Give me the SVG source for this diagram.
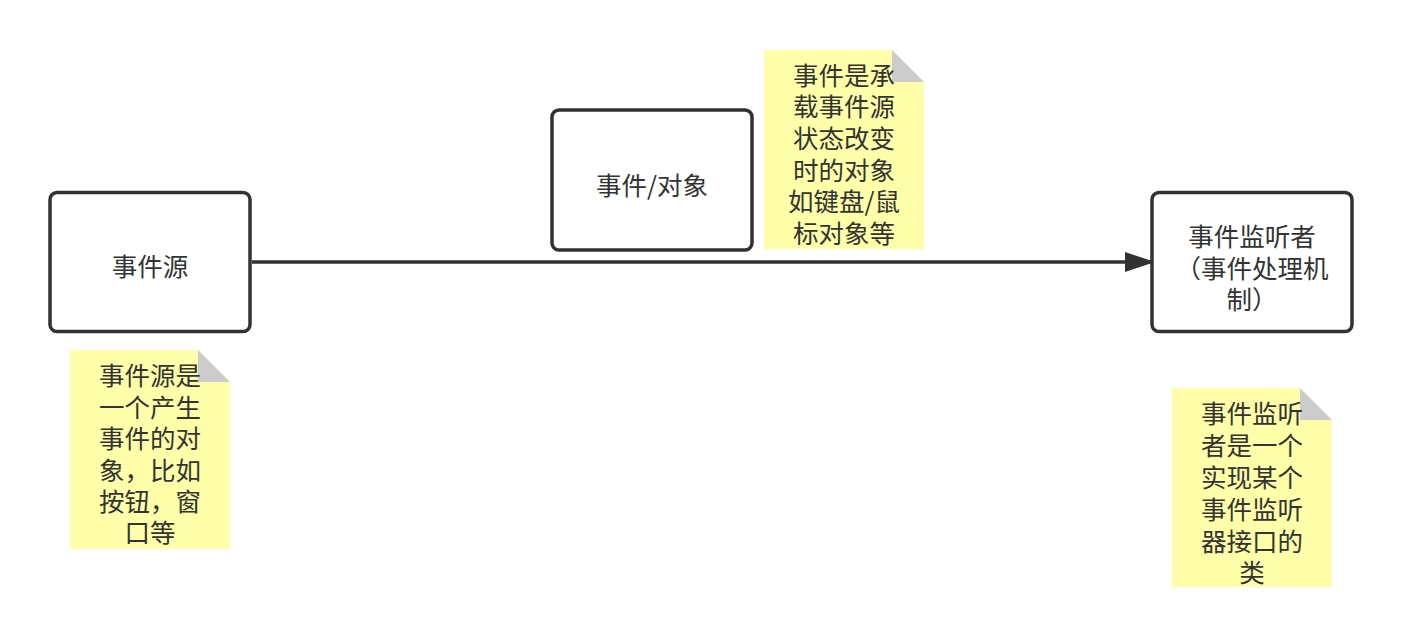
<svg xmlns="http://www.w3.org/2000/svg" width="1402" height="638" viewBox="0 0 1402 638">
<defs>
<style>
.node{fill:#ffffff;stroke:#323232;stroke-width:3.5}
.note{fill:#ffffaa}
.fold{fill:#cccccc}
text{font-family:"Noto Sans CJK SC","Liberation Sans",sans-serif;font-size:25.5px;fill:#333333;text-anchor:middle;dominant-baseline:central}
.edge{stroke:#323232;stroke-width:3.5;fill:none}
</style>
<marker id="arrow" markerUnits="userSpaceOnUse" markerWidth="32" markerHeight="22" refX="30" refY="10" orient="auto">
<path d="M0,0 L30,10 L0,20 Z" fill="#323232"/>
</marker>
</defs>
<rect width="1402" height="638" fill="#ffffff"/>
<g id="connectors">
<path class="edge" d="M252,262 L1155,262" marker-end="url(#arrow)"/>
</g>
<g id="node-source">
<rect class="node" x="50" y="192.5" width="200" height="139" rx="7"/>
<text x="150" y="264">事件源</text>
</g>
<g id="node-event">
<rect class="node" x="552" y="110" width="200" height="140" rx="7"/>
<text x="652" y="183">事件/对象</text>
</g>
<g id="node-listener">
<rect class="node" x="1152" y="192.5" width="200" height="139" rx="7"/>
<text x="1252" y="234">事件监听者</text>
<text x="1252" y="266">（事件处理机</text>
<text x="1252" y="297">制）</text>
</g>
<g id="note-source">
<path class="note" d="M70,350 H198 L230,382 V549 H70 Z"/>
<path class="fold" d="M198,350 V382 H230 Z"/>
<text x="150" y="373">事件源是</text>
<text x="150" y="405">一个产生</text>
<text x="150" y="436">事件的对</text>
<text x="150" y="468">象，比如</text>
<text x="150" y="499">按钮，窗</text>
<text x="150" y="530">口等</text>
</g>
<g id="note-event">
<path class="note" d="M764,50 H892 L924,82 V249 H764 Z"/>
<path class="fold" d="M892,50 V82 H924 Z"/>
<text x="844" y="73">事件是承</text>
<text x="844" y="104">载事件源</text>
<text x="844" y="136">状态改变</text>
<text x="844" y="168">时的对象</text>
<text x="844" y="199">如键盘/鼠</text>
<text x="844" y="231">标对象等</text>
</g>
<g id="note-listener">
<path class="note" d="M1172,388 H1300 L1332,420 V587 H1172 Z"/>
<path class="fold" d="M1300,388 V420 H1332 Z"/>
<text x="1252" y="411">事件监听</text>
<text x="1252" y="443">者是一个</text>
<text x="1252" y="475">实现某个</text>
<text x="1252" y="507">事件监听</text>
<text x="1252" y="539">器接口的</text>
<text x="1252" y="570">类</text>
</g>
</svg>
